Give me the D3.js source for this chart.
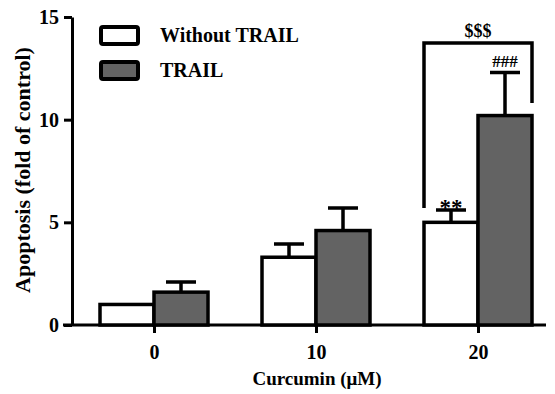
<!DOCTYPE html>
<html>
<head>
<script src="https://d3js.org/d3.v7.min.js"></script>
<style>
    body { margin: 0; background: #fff; }
    text { font-family: "Liberation Serif", "DejaVu Serif", serif; font-weight: bold; fill: #000; }
    .bar { stroke: #000; stroke-width: 3.5px; }
    .err { stroke: #000; stroke-width: 3.5px; fill: none; }
</style>
</head>
<body>
<svg id="chart" width="555" height="394"></svg>
<script>
    // data
    var doses = ["0", "10", "20"];
    var withoutTrail = [1.0, 3.3, 5.0];
    var withoutTrailErr = [0, 0.65, 0.6];
    var trail = [1.6, 4.6, 10.2];
    var trailErr = [0.5, 1.1, 2.1];
    var yTicks = [0, 5, 10, 15];
    var seriesNames = ["Without TRAIL", "TRAIL"];
    var seriesColors = ["#ffffff", "#636363"];

    var svg = d3.select("#chart");

    var y = d3.scaleLinear().domain([0, 15]).range([325, 17]);
    var x = d3.scalePoint().domain(doses).range([154, 478]);
    var sub = d3.scaleBand().domain([0, 1]).range([-54, 54]);

    // y axis
    var yAxis = svg.append("g")
        .attr("transform", "translate(72,0)")
        .call(d3.axisLeft(y).tickValues(yTicks).tickSize(8).tickSizeOuter(0));
    yAxis.select(".domain").attr("stroke-width", 3);
    yAxis.selectAll(".tick line").attr("stroke-width", 3);
    yAxis.selectAll(".tick text")
        .attr("x", -13)
        .style("font-size", "20px")
        .style("font-family", "Liberation Serif")
        .style("font-weight", "bold");

    // x axis
    var xAxis = svg.append("g")
        .attr("transform", "translate(0," + y(0) + ")")
        .call(d3.axisBottom(x).tickSize(8).tickSizeOuter(0));
    xAxis.select(".domain").remove();
    xAxis.append("line")
        .attr("x1", 63).attr("x2", 546)
        .attr("stroke", "#000").attr("stroke-width", 3);
    xAxis.selectAll(".tick line").attr("stroke-width", 3);
    xAxis.selectAll(".tick text")
        .attr("y", 20)
        .style("font-size", "20px")
        .style("font-family", "Liberation Serif")
        .style("font-weight", "bold");

    // bars
    var series = [withoutTrail, trail];
    var errs = [withoutTrailErr, trailErr];
    series.forEach(function (vals, s) {
        var g = svg.append("g");
        g.selectAll("path.err")
            .data(vals)
            .enter().append("path")
            .attr("class", "err")
            .attr("d", function (d, i) {
                if (!errs[s][i]) return null;
                var cx = x(doses[i]) + sub(s) + sub.bandwidth() / 2;
                var top = y(d + errs[s][i]);
                return "M" + cx + "," + y(d) + "V" + top + "M" + (cx - 15) + "," + top + "H" + (cx + 15);
            });
        g.selectAll("rect")
            .data(vals)
            .enter().append("rect")
            .attr("class", "bar")
            .attr("fill", seriesColors[s])
            .attr("x", function (d, i) { return x(doses[i]) + sub(s); })
            .attr("width", sub.bandwidth())
            .attr("y", function (d) { return y(d); })
            .attr("height", function (d) { return y(0) - y(d); });
    });

    // significance marks
    var bx1 = x("20") + sub(0), bx2 = x("20") + sub(1) + sub.bandwidth();
    svg.append("path")
        .attr("class", "err")
        .attr("stroke-width", 4)
        .attr("d", "M" + bx1 + "," + (y(5.6) - 2) + "V43H" + bx2 + "V103");
    svg.append("text")
        .attr("x", x("20")).attr("y", 37)
        .attr("text-anchor", "middle")
        .style("font-size", "18px")
        .text("$$$");
    svg.append("text")
        .attr("x", x("20") + sub(1) + sub.bandwidth() / 2).attr("y", y(trail[2] + trailErr[2]) - 5)
        .attr("text-anchor", "middle")
        .style("font-size", "17px")
        .text("###");
    svg.append("text")
        .attr("x", x("20") + sub(0) + sub.bandwidth() / 2).attr("y", y(withoutTrail[2] + withoutTrailErr[2]) + 5)
        .attr("text-anchor", "middle")
        .style("font-size", "23px")
        .text("**");

    // legend
    var legend = svg.append("g");
    seriesNames.forEach(function (name, i) {
        legend.append("rect")
            .attr("x", 101).attr("y", 27 + i * 35)
            .attr("width", 37).attr("height", 17)
            .attr("rx", 2)
            .attr("fill", seriesColors[i])
            .attr("stroke", "#000").attr("stroke-width", 4);
        legend.append("text")
            .attr("x", 160).attr("y", 42 + i * 35)
            .style("font-size", "20px")
            .text(name);
    });

    // axis titles
    svg.append("text")
        .attr("transform", "translate(30,170) rotate(-90)")
        .attr("text-anchor", "middle")
        .style("font-size", "22px")
        .text("Apoptosis (fold of control)");
    svg.append("text")
        .attr("x", 317).attr("y", 385)
        .attr("text-anchor", "middle")
        .style("font-size", "19px")
        .text("Curcumin (\u03bcM)");
</script>
</body>
</html>
